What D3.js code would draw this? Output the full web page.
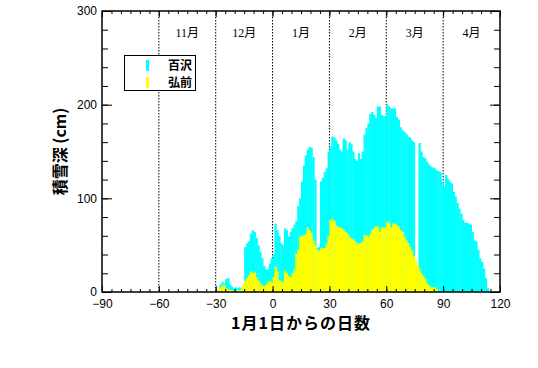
<!DOCTYPE html>
<html lang="ja">
  <head>
    <meta charset="UTF-8">
    <title>積雪深</title>
    <script src="https://d3js.org/d3.v7.min.js"></script>
    <style>
      body { margin: 0; background: #fff; }
      .tick text { font-family: "Liberation Sans", Arial, sans-serif; font-size: 12px; fill: #000; }
    </style>
  </head>
  <body>

<script>
  // first day of the series (days from Jan 1)
  const firstDay = -30;

  // 百沢 snow depth (cm), one value per day from firstDay
  const hyakuzawa = [
    0, 0, 8, 11, 9, 14, 15, 8, 6, 4,
    5, 4, 5, 4, 6, 48, 52, 54, 62, 66,
    64, 58, 50, 43, 36, 28, 24, 24, 30, 36,
    40, 73, 66, 60, 52, 50, 68, 66, 59, 64,
    68, 72, 76, 92, 100, 118, 135, 146, 152, 155,
    154, 144, 120, 47, 48, 118, 122, 128, 132, 150,
    155, 166, 165, 162, 158, 152, 150, 164, 162, 152,
    160, 158, 150, 142, 140, 148, 142, 150, 168, 175,
    180, 190, 192, 189, 186, 198, 198, 189, 188, 188,
    200, 198, 196, 196, 196, 187, 184, 176, 173, 171,
    169, 166, 165, 162, 160, 0, 0, 159, 150, 144,
    143, 139, 136, 134, 133, 132, 130, 129, 128, 118,
    112, 125, 121, 118, 116, 107, 102, 95, 89, 84,
    77, 74, 74, 73, 72, 64, 55, 54, 45, 36,
    32, 25, 15, 4
  ];

  // 弘前 snow depth (cm)
  const hirosaki = [
    0, 3, 5, 7, 7, 4, 3, 2, 2, 1,
    1, 2, 2, 3, 8, 12, 15, 18, 22, 20,
    21, 16, 12, 9, 7, 6, 8, 11, 12, 10,
    16, 27, 22, 13, 11, 11, 23, 20, 17, 16,
    20, 24, 41, 45, 59, 60, 61, 62, 69, 66,
    63, 55, 50, 45, 44, 47, 47, 47, 52, 60,
    77, 78, 76, 71, 69, 69, 68, 66, 64, 62,
    59, 57, 56, 54, 52, 52, 52, 54, 61, 60,
    59, 62, 66, 68, 70, 70, 64, 69, 69, 69,
    75, 74, 69, 73, 73, 71, 70, 66, 64, 59,
    55, 52, 48, 44, 38, 34, 29, 25, 20, 17,
    14, 9, 7, 5, 5, 5, 3, 0
  ];

  const monthLines = [-60, -30, 0, 30, 60, 90];
  const monthNames = ["11月", "12月", "1月", "2月", "3月", "4月"];
  const monthPos = [-45, -15, 15, 45, 75, 105];

  const xTicks = [-90, -60, -30, 0, 30, 60, 90, 120];
  const yTicks = [0, 100, 200, 300];

  const w = 538;
  const h = 368;
  const padL = 102, padR = 500, padT = 11, padB = 292;

  const xScale = d3.scaleLinear().domain([-90, 120]).range([padL, padR]);
  const yScale = d3.scaleLinear().domain([0, 300]).range([padB, padT]);

  const svg = d3.select("body")
                .append("svg")
                .attr("width", w)
                .attr("height", h);

  // month separators (behind bars)
  svg.append("g")
     .selectAll("line")
     .data(monthLines)
     .enter()
     .append("line")
     .attr("x1", d => xScale(d))
     .attr("x2", d => xScale(d))
     .attr("y1", padT)
     .attr("y2", padB)
     .attr("stroke", "#000")
     .attr("stroke-width", 1)
     .attr("stroke-dasharray", "1.5,1.5");

  function drawBars(values, color) {
    svg.append("g")
       .selectAll("rect")
       .data(values)
       .enter()
       .append("rect")
       .attr("x", (d, i) => xScale(firstDay + i))
       .attr("width", (d, i) => xScale(firstDay + i + 1) - xScale(firstDay + i) + 0.4)
       .attr("y", d => yScale(d))
       .attr("height", d => yScale(0) - yScale(d))
       .attr("fill", color);
  }
  drawBars(hyakuzawa, "#00ffff");
  drawBars(hirosaki, "#ffff00");

  svg.append("g")
     .selectAll("text")
     .data(monthNames)
     .enter()
     .append("text")
     .attr("x", (d, i) => xScale(monthPos[i]))
     .attr("y", 37)
     .attr("text-anchor", "middle")
     .attr("font-family", "'Liberation Serif', 'Noto Sans CJK JP', serif")
     .attr("font-size", 12)
     .text(d => d);

  // axes, ticks inward
  const minorX = d3.range(-90, 121, 5);
  const minorY = d3.range(0, 301, 20);

  function addAxis(axis, tx, ty) {
    const g = svg.append("g")
                 .attr("transform", `translate(${tx},${ty})`)
                 .call(axis);
    g.select(".domain").remove();
    g.selectAll("line").attr("stroke", "#000");
    return g;
  }

  addAxis(d3.axisBottom(xScale).tickValues(minorX).tickSize(-3).tickFormat(""), 0, padB);
  addAxis(d3.axisBottom(xScale).tickValues(xTicks).tickSize(-6).tickPadding(7), 0, padB);
  addAxis(d3.axisTop(xScale).tickValues(minorX).tickSize(-3).tickFormat(""), 0, padT);
  addAxis(d3.axisTop(xScale).tickValues(xTicks).tickSize(-6).tickFormat(""), 0, padT);

  addAxis(d3.axisLeft(yScale).tickValues(minorY).tickSize(-6).tickFormat(""), padL, 0);
  addAxis(d3.axisLeft(yScale).tickValues(yTicks).tickSize(-10).tickPadding(5), padL, 0);
  addAxis(d3.axisRight(yScale).tickValues(minorY).tickSize(-6).tickFormat(""), padR, 0);
  addAxis(d3.axisRight(yScale).tickValues(yTicks).tickSize(-10).tickFormat(""), padR, 0);

  svg.append("rect")
     .attr("x", padL)
     .attr("y", padT)
     .attr("width", padR - padL)
     .attr("height", padB - padT)
     .attr("fill", "none")
     .attr("stroke", "#000")
     .attr("stroke-width", 1.5);

  // legend
  const legend = svg.append("g");
  legend.append("rect")
        .attr("x", 124.5).attr("y", 55.5)
        .attr("width", 71).attr("height", 35)
        .attr("fill", "#fff").attr("stroke", "#000");
  const legendItems = [["百沢", "#00ffff"], ["弘前", "#ffff00"]];
  legendItems.forEach((d, i) => {
    legend.append("rect")
          .attr("x", 146).attr("y", 60 + i * 17)
          .attr("width", 3).attr("height", 11)
          .attr("fill", d[1]);
    legend.append("text")
          .attr("x", 168).attr("y", 70 + i * 17)
          .attr("font-family", "'Noto Sans CJK JP', sans-serif")
          .attr("font-size", 12)
          .attr("font-weight", "bold")
          .text(d[0]);
  });

  svg.append("text")
     .attr("x", (padL + padR) / 2)
     .attr("y", 329)
     .attr("text-anchor", "middle")
     .attr("font-family", "'Noto Sans CJK JP', sans-serif")
     .attr("font-size", 16)
     .attr("letter-spacing", 1)
     .attr("font-weight", "bold")
     .text("1月1日からの日数");

  svg.append("text")
     .attr("transform", `translate(66,${(padT + padB) / 2}) rotate(-90)`)
     .attr("text-anchor", "middle")
     .attr("font-family", "'Noto Sans CJK JP', sans-serif")
     .attr("font-size", 16)
     .attr("font-weight", "bold")
     .text("積雪深 (cm)");
</script>

  </body>
</html>
